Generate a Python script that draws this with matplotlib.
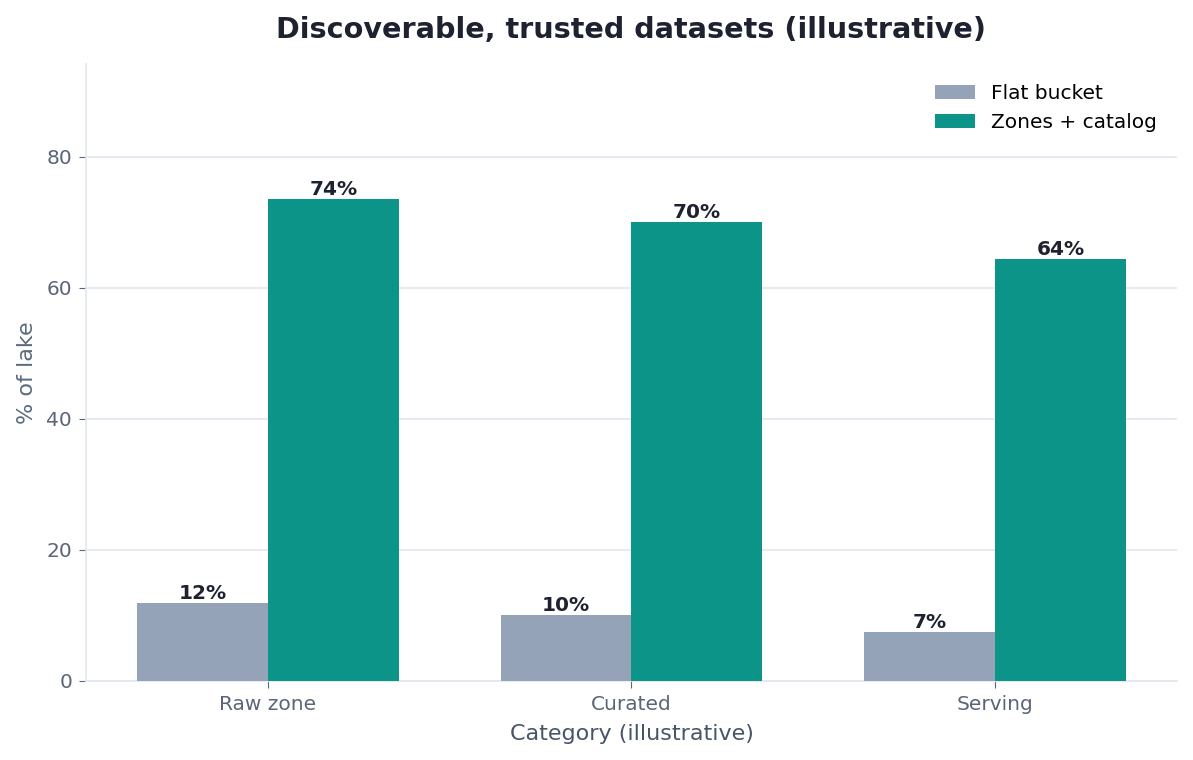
import numpy as np
import matplotlib
matplotlib.use("Agg")
import matplotlib.pyplot as plt

# Data
categories = ["Raw zone", "Curated", "Serving"]
flatBucket = [11.9, 10.1, 7.4]
zonesCatalog = [73.6, 70.1, 64.4]
seriesNames = ["Flat bucket", "Zones + catalog"]

fig = plt.figure(figsize=(11.93, 7.6), dpi=100)
ax = fig.add_axes([0.072, 0.104, 0.9146, 0.812])

x = np.arange(len(categories))
width = 0.36
barsFlat = ax.bar(x - width / 2, flatBucket, width, color="#94A3B8", label=seriesNames[0], zorder=3)
barsZones = ax.bar(x + width / 2, zonesCatalog, width, color="#0D9488", label=seriesNames[1], zorder=3)

# Value labels on top of each bar
for bars in (barsFlat, barsZones):
    for b in bars:
        ax.text(b.get_x() + b.get_width() / 2, b.get_height(), f"{b.get_height():.0f}%",
                ha="center", va="bottom", fontsize=14.5, fontweight="bold", color="#1E2230")

ax.set_xlim(-0.5, 2.5)
ax.set_ylim(0, max(zonesCatalog) * 1.28)
ax.set_xticks(x)
ax.set_xticklabels(categories)
ax.set_yticks([0, 20, 40, 60, 80])

ax.set_title("Discoverable, trusted datasets (illustrative)", fontsize=20.6, fontweight="bold",
             color="#1E2230", pad=18.5)
ax.set_xlabel("Category (illustrative)", fontsize=16, color="#475569", labelpad=7.5)
ax.set_ylabel("% of lake", fontsize=16, color="#5B6B80", labelpad=7)

ax.tick_params(axis="both", labelsize=14.5, colors="#5B6478", length=5, pad=5)
ax.yaxis.grid(True, color="#E2E8F0", linewidth=1.2, zorder=0)
ax.set_axisbelow(True)
for side in ("top", "right"):
    ax.spines[side].set_visible(False)
for side in ("left", "bottom"):
    ax.spines[side].set_color("#E2E8F0")
    ax.spines[side].set_linewidth(1.2)

ax.legend(loc="upper right", frameon=False, fontsize=14.5, handlelength=2.0, handleheight=0.7,
          borderaxespad=0.6)

fig.savefig("out.png", dpi=100)
